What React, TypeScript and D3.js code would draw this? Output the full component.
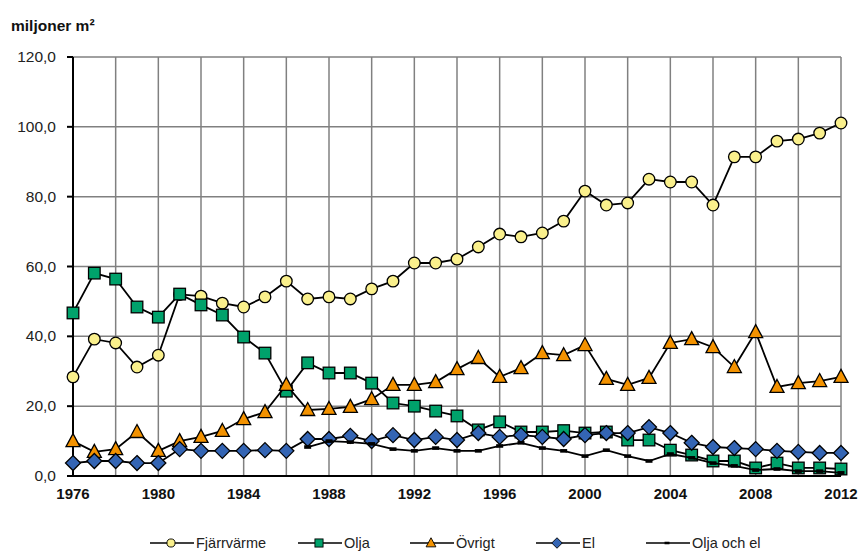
import React, { useEffect, useRef } from 'react';
import * as d3 from 'd3';

// år 1976-2012
const years: number[] = d3.range(1976, 2013);

const fjarrvarme: number[] = [
  28.4, 39.2, 38.1, 31.2, 34.6, 52.0, 51.5, 49.5, 48.4, 51.3,
  55.8, 50.7, 51.3, 50.7, 53.6, 55.8, 61.0, 61.0, 62.1, 65.6,
  69.3, 68.5, 69.6, 73.0, 81.6, 77.6, 78.2, 85.0, 84.2, 84.2,
  77.6, 91.4, 91.4, 95.9, 96.5, 98.2, 101.1,
];
const olja: number[] = [
  46.7, 58.1, 56.4, 48.4, 45.5, 52.1, 49.0, 46.1, 39.8, 35.2,
  24.3, 32.4, 29.5, 29.5, 26.6, 20.9, 20.0, 18.6, 17.2, 13.2,
  15.5, 12.6, 12.6, 13.0, 12.3, 12.6, 10.3, 10.3, 7.4, 6.0,
  4.3, 4.3, 2.3, 3.7, 2.3, 2.3, 2.0,
];
const ovrigt: number[] = [
  10.0, 6.9, 7.7, 12.6, 7.2, 10.0, 11.2, 12.9, 16.3, 18.3,
  26.1, 18.9, 19.2, 19.8, 22.0, 26.1, 26.1, 26.9, 30.6, 33.8,
  28.4, 30.9, 35.2, 34.6, 37.5, 27.8, 26.1, 28.1, 38.1, 39.2,
  36.9, 31.2, 41.2, 25.5, 26.6, 27.2, 28.4,
];
const el: number[] = [
  3.7, 4.3, 4.3, 3.7, 3.7, 7.7, 7.2, 7.2, 7.2, 7.4,
  7.2, 10.6, 10.6, 11.5, 10.0, 11.7, 10.3, 11.2, 10.3, 12.3,
  11.2, 11.7, 11.2, 10.6, 11.7, 12.3, 12.3, 14.0, 12.3, 9.5,
  8.3, 8.0, 7.7, 7.2, 6.9, 6.6, 6.6,
];
// serien börjar 1987
const oljaOchElYears: number[] = d3.range(1987, 2013);
const oljaOchEl: number[] = [
  8.3, 10.0, 9.7, 9.2, 7.7, 7.2, 8.0, 7.2, 7.2, 8.6,
  9.5, 8.0, 7.2, 5.7, 7.4, 5.7, 4.3, 6.3, 5.2, 3.7,
  2.9, 1.7, 2.0, 1.4, 1.4, 0.9,
];

const yTicks: number[] = [0, 20, 40, 60, 80, 100, 120];
const xLabelYears: number[] = [1976, 1980, 1984, 1988, 1992, 1996, 2000, 2004, 2008, 2012];

const seriesNames: string[] = ['Fjärrvärme', 'Olja', 'Övrigt', 'El', 'Olja och el'];
const seriesColors: string[] = ['#faf08c', '#00a26b', '#f39200', '#3465b4', '#000000'];
const seriesShapes: string[] = ['circle', 'square', 'triangle', 'diamond', 'dash'];

export default function App() {
  const ref = useRef<SVGSVGElement>(null);

  useEffect(() => {
    const width = 866;
    const height = 559;
    const svg = d3.select(ref.current);
    svg.selectAll('*').remove();

    const x = d3.scaleLinear().domain([1976, 2012]).range([73, 841]);
    const y = d3.scaleLinear().domain([0, 120]).range([476, 57]);
    const font = 'Liberation Sans, Arial, sans-serif';

    // rubrik
    svg.append('text')
      .attr('x', 11).attr('y', 31)
      .attr('font-family', font).attr('font-size', 15.5).attr('font-weight', 'bold')
      .attr('fill', '#111')
      .text('miljoner m²');

    // rutnät
    const grid = svg.append('g').attr('stroke', '#808080').attr('stroke-width', 1.5);
    grid.selectAll('line.h')
      .data(yTicks.filter(d => d > 0))
      .enter().append('line')
      .attr('x1', x(1976)).attr('x2', x(2012))
      .attr('y1', d => y(d)).attr('y2', d => y(d));
    grid.selectAll('line.v')
      .data(d3.range(1978, 2013, 2))
      .enter().append('line')
      .attr('x1', d => x(d)).attr('x2', d => x(d))
      .attr('y1', y(0)).attr('y2', y(120));

    // axlar
    const axis = svg.append('g').attr('stroke', '#000').attr('stroke-width', 2);
    axis.append('line').attr('x1', x(1976)).attr('x2', x(1976)).attr('y1', y(0)).attr('y2', y(120));
    axis.append('line').attr('x1', x(1976)).attr('x2', x(2012)).attr('y1', y(0)).attr('y2', y(0));
    axis.selectAll('line.t')
      .data(yTicks)
      .enter().append('line')
      .attr('x1', x(1976) - 6).attr('x2', x(1976))
      .attr('y1', d => y(d)).attr('y2', d => y(d));

    const fmt = d3.format('.1f');
    svg.append('g').selectAll('text')
      .data(yTicks)
      .enter().append('text')
      .attr('x', 56).attr('y', d => y(d) + 5)
      .attr('text-anchor', 'end')
      .attr('font-family', font).attr('font-size', 15.5)
      .attr('fill', '#222')
      .text(d => fmt(d).replace('.', ','));

    svg.append('g').selectAll('text')
      .data(xLabelYears)
      .enter().append('text')
      .attr('x', d => x(d)).attr('y', 499)
      .attr('text-anchor', 'middle')
      .attr('font-family', font).attr('font-size', 15).attr('font-weight', 'bold')
      .attr('fill', '#111')
      .text(d => d);

    const drawMarker = (g: any, shape: string, color: string) => {
      if (shape === 'circle') {
        g.append('circle').attr('r', 5.8).attr('fill', color).attr('stroke', '#000').attr('stroke-width', 1.3);
      } else if (shape === 'square') {
        g.append('rect').attr('x', -5.8).attr('y', -5.8).attr('width', 11.6).attr('height', 11.6)
          .attr('fill', color).attr('stroke', '#000').attr('stroke-width', 1.3);
      } else if (shape === 'triangle') {
        g.append('path').attr('d', 'M0,-7.5L7,5.5L-7,5.5Z')
          .attr('fill', color).attr('stroke', '#000').attr('stroke-width', 1.3);
      } else if (shape === 'diamond') {
        g.append('path').attr('d', 'M0,-7.5L7.5,0L0,7.5L-7.5,0Z')
          .attr('fill', color).attr('stroke', '#000').attr('stroke-width', 1.3);
      } else {
        g.append('rect').attr('x', -3.5).attr('y', -1.8).attr('width', 7).attr('height', 3.6).attr('fill', '#000');
      }
    };

    const allSeries = [
      { xs: years, ys: fjarrvarme },
      { xs: years, ys: olja },
      { xs: years, ys: ovrigt },
      { xs: years, ys: el },
      { xs: oljaOchElYears, ys: oljaOchEl },
    ];

    const line = d3.line<[number, number]>().x(d => x(d[0])).y(d => y(d[1]));

    allSeries.forEach((s, i) => {
      const pts: [number, number][] = s.xs.map((yr, k) => [yr, s.ys[k]]);
      const g = svg.append('g');
      g.append('path')
        .attr('d', line(pts))
        .attr('fill', 'none').attr('stroke', '#000').attr('stroke-width', 1.8);
      pts.forEach(p => {
        const m = g.append('g').attr('transform', `translate(${x(p[0])},${y(p[1])})`);
        drawMarker(m, seriesShapes[i], seriesColors[i]);
      });
    });

    // förklaring
    const legendX = [150, 298, 410, 536, 646];
    const legend = svg.append('g').attr('transform', 'translate(0,543)');
    seriesNames.forEach((name, i) => {
      const lg = legend.append('g').attr('transform', `translate(${legendX[i]},0)`);
      lg.append('line').attr('x1', 0).attr('x2', 44).attr('y1', 0).attr('y2', 0)
        .attr('stroke', '#000').attr('stroke-width', 1.6);
      const m = lg.append('g').attr('transform', 'translate(21,0) scale(0.7)');
      drawMarker(m, seriesShapes[i], seriesColors[i]);
      lg.append('text').attr('x', 46).attr('y', 5)
        .attr('font-family', font).attr('font-size', 14.5)
        .attr('fill', '#222')
        .text(name);
    });

    svg.attr('width', width).attr('height', height);
  }, []);

  return (
    <svg ref={ref} width={866} height={559}
      style={{ position: 'absolute', left: 0, top: 0, background: '#fff' }} />
  );
}
